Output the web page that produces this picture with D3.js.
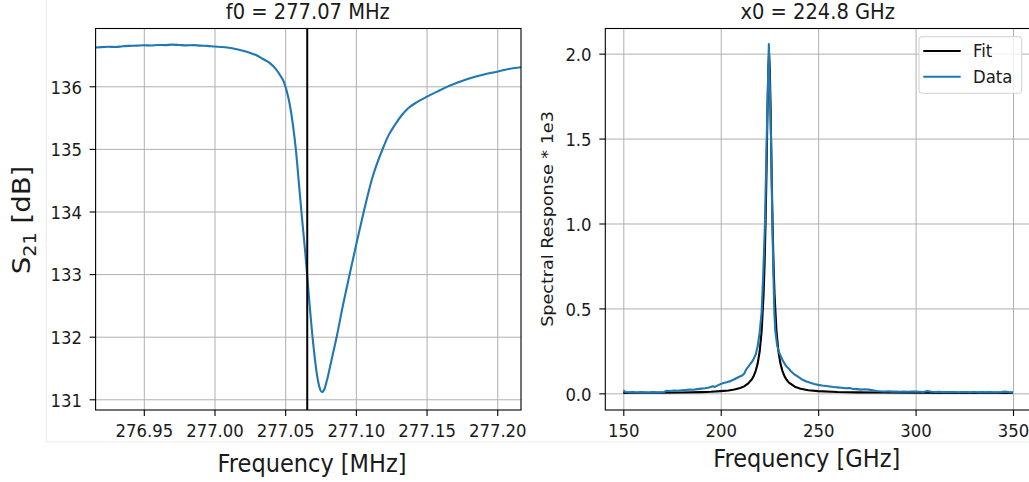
<!DOCTYPE html>
<html>
<head>
<meta charset="utf-8">
<script src="https://cdn.jsdelivr.net/npm/d3@7"></script>
<style>
  html, body { margin: 0; padding: 0; background: #fff; }
  svg { display: block; }
  text { font-family: "DejaVu Sans", sans-serif; fill: #1a1a1a; }
</style>
</head>
<body>
<svg id="chart" width="1029" height="482"></svg>
<script>
// ---- Resonator sweep (left panel) ----
const s21Freq = [276.9159, 276.920, 276.925, 276.930, 276.935, 276.940, 276.945, 276.950, 276.955, 276.960,
  276.965, 276.970, 276.975, 276.980, 276.985, 276.990, 276.995, 277.000, 277.005, 277.010,
  277.015, 277.018, 277.025, 277.0293, 277.034, 277.0392, 277.043, 277.0463, 277.049, 277.0505,
  277.052, 277.0533, 277.0555, 277.0576, 277.0597, 277.0618, 277.064, 277.0661, 277.0682, 277.0703,
  277.0725, 277.0742, 277.076, 277.0778, 277.0796, 277.0831, 277.0864, 277.0909, 277.0958, 277.1008,
  277.1057, 277.1114, 277.1192, 277.1232, 277.1276, 277.132, 277.1368, 277.1435, 277.1503, 277.1575,
  277.1644, 277.1725, 277.1807, 277.190, 277.1998, 277.209, 277.2168];
const s21Db = [136.620, 136.625, 136.632, 136.627, 136.640, 136.646, 136.650, 136.656, 136.651, 136.660,
  136.657, 136.665, 136.660, 136.654, 136.658, 136.650, 136.646, 136.635, 136.628, 136.615,
  136.595, 136.580, 136.535, 136.500, 136.440, 136.370, 136.285, 136.180, 136.075, 135.970,
  135.840, 135.700, 135.380, 134.980, 134.450, 133.920, 133.390, 132.830, 132.270, 131.790,
  131.390, 131.196, 131.117, 131.165, 131.308, 131.660, 131.995, 132.506, 133.017, 133.528,
  134.008, 134.519, 135.014, 135.220, 135.382, 135.525, 135.645, 135.750, 135.834, 135.915,
  135.990, 136.065, 136.128, 136.185, 136.233, 136.280, 136.305];
const f0 = 277.0656;
const s21Ticks = [276.95, 277.00, 277.05, 277.10, 277.15, 277.20];
const dbTicks = [131, 132, 133, 134, 135, 136];

// ---- Spectral response (right panel) ----
const specFreq = [150, 151, 153, 155, 157, 159, 161, 163, 165, 167, 169, 171, 172, 174, 176, 178, 180, 182, 184, 186,
  188, 190, 192, 194, 196, 197, 199, 201, 203, 205, 207, 209, 211, 212, 213, 214, 215, 216, 217, 218,
  219, 220, 221, 221.8, 222.7, 223.6, 224.7, 225.8, 226.5, 227.0, 227.5, 228, 229, 230, 231, 232,
  233, 234, 235, 236, 238, 240, 242, 244, 246, 248, 250, 252, 254, 256, 258, 260, 262, 264, 266,
  268, 270, 272, 274, 276, 278, 280, 282, 284, 286, 288, 290, 292, 294, 296, 298, 300, 302, 304,
  306, 308, 310, 312, 314, 316, 318, 320, 322, 324, 326, 328, 330, 332, 334, 336, 338, 340, 342,
  344, 346, 348, 350];
const specData = [0.018, 0.008, 0.006, 0.007, 0.005, 0.007, 0.006, 0.005, 0.007, 0.006, 0.006, 0.008, 0.015, 0.014, 0.017, 0.015, 0.018, 0.020, 0.022, 0.021,
  0.025, 0.028, 0.030, 0.034, 0.042, 0.038, 0.050, 0.060, 0.065, 0.072, 0.083, 0.095, 0.105, 0.115, 0.140, 0.155, 0.170, 0.185, 0.205, 0.230,
  0.280, 0.360, 0.480, 0.700, 1.000, 1.500, 2.057, 1.500, 1.000, 0.720, 0.480, 0.370, 0.280, 0.240, 0.215, 0.190,
  0.170, 0.155, 0.145, 0.130, 0.110, 0.095, 0.080, 0.070, 0.062, 0.055, 0.050, 0.046, 0.043, 0.040, 0.037, 0.035, 0.033, 0.030, 0.031,
  0.026, 0.025, 0.022, 0.024, 0.022, 0.018, 0.014, 0.012, 0.011, 0.012, 0.010, 0.011, 0.009, 0.010, 0.009, 0.011, 0.010, 0.009, 0.008,
  0.014, 0.009, 0.008, 0.009, 0.007, 0.008, 0.007, 0.008, 0.006, 0.008, 0.007, 0.006, 0.008, 0.006, 0.007, 0.006, 0.007, 0.006, 0.006,
  0.007, 0.010, 0.006, 0.006];
const fitFreq = [150, 160, 170, 180, 190, 195, 200, 204, 207, 210, 212, 214, 216, 217, 218, 219, 220, 221, 222, 222.5,
  223, 223.5, 224, 224.4, 224.8, 225.2, 225.6, 226.1, 226.6, 227.1, 227.6, 228.6, 229.6, 230.6, 231.6, 232.6, 233.6,
  235, 238, 241, 245, 250, 260, 270, 280, 300, 325, 350];
const fitVal = [0.003, 0.0035, 0.004, 0.005, 0.007, 0.009, 0.013, 0.017, 0.023, 0.032, 0.041, 0.057, 0.083, 0.104, 0.134, 0.178, 0.248, 0.368, 0.586, 0.76,
  1.0, 1.31, 1.67, 1.9, 2.0, 1.9, 1.67, 1.31, 1.0, 0.76, 0.586, 0.368, 0.248, 0.178, 0.134, 0.104, 0.083,
  0.063, 0.039, 0.027, 0.018, 0.013, 0.008, 0.006, 0.005, 0.004, 0.003, 0.003];
const ghzTicks = [150, 200, 250, 300, 350];
const respTicks = [0.0, 0.5, 1.0, 1.5, 2.0];
const legendItems = ["Fit", "Data"];
const legendColors = ["#000000", "#1f77b4"];

// ---- layout ----
const SY = 1.1;            // glyph aspect of the figure
const TICK_FS = 16.5;
const svg = d3.select("#chart");
svg.append("rect").attr("width", 1029).attr("height", 482).attr("fill", "#fff");

// faint figure frame
svg.append("line").attr("x1", 46.3).attr("x2", 46.3).attr("y1", 0).attr("y2", 442)
  .attr("stroke", "#ebebeb").attr("stroke-width", 1);
svg.append("line").attr("x1", 46.3).attr("x2", 1029).attr("y1", 442).attr("y2", 442)
  .attr("stroke", "#ebebeb").attr("stroke-width", 1);

const defs = svg.append("defs");

function panel(id, box, xDomain, yDomain, xTicks, yTicks, xFmt, yFmt) {
  const x = d3.scaleLinear().domain(xDomain).range([box.l, box.r]);
  const y = d3.scaleLinear().domain(yDomain).range([box.b, box.t]);
  defs.append("clipPath").attr("id", id).append("rect")
    .attr("x", box.l).attr("y", box.t).attr("width", box.r - box.l).attr("height", box.b - box.t);
  const g = svg.append("g");
  // grid
  g.append("g").attr("transform", `translate(0,${box.b})`)
    .call(d3.axisBottom(x).tickValues(xTicks).tickSize(-(box.b - box.t)).tickFormat(""))
    .call(s => { s.select(".domain").remove(); s.selectAll("line").attr("stroke", "#b0b0b0").attr("stroke-width", 1); });
  g.append("g").attr("transform", `translate(${box.l},0)`)
    .call(d3.axisLeft(y).tickValues(yTicks).tickSize(-(box.r - box.l)).tickFormat(""))
    .call(s => { s.select(".domain").remove(); s.selectAll("line").attr("stroke", "#b0b0b0").attr("stroke-width", 1); });
  // axes with labels
  g.append("g").attr("transform", `translate(0,${box.b})`)
    .call(d3.axisBottom(x).tickValues(xTicks).tickFormat(xFmt).tickSize(6).tickSizeOuter(0))
    .call(s => {
      s.select(".domain").remove();
      s.selectAll("line").attr("stroke", "#000").attr("stroke-width", 1.1);
      s.selectAll("text").attr("y", null).attr("dy", null)
        .attr("transform", `translate(0,26.7) scale(1,${SY})`)
        .attr("font-size", TICK_FS).attr("font-family", "DejaVu Sans");
    });
  g.append("g").attr("transform", `translate(${box.l},0)`)
    .call(d3.axisLeft(y).tickValues(yTicks).tickFormat(yFmt).tickSize(6).tickSizeOuter(0))
    .call(s => {
      s.select(".domain").remove();
      s.selectAll("line").attr("stroke", "#000").attr("stroke-width", 1.1);
      s.selectAll("text").attr("x", null).attr("dy", null)
        .attr("transform", `translate(-13.7,6.8) scale(1,${SY})`)
        .attr("font-size", TICK_FS).attr("font-family", "DejaVu Sans");
    });
  const plot = g.append("g").attr("clip-path", `url(#${id})`);
  return { x, y, g, plot };
}

// ---- left panel ----
const boxL = { l: 95.6, r: 521, t: 28.5, b: 410 };
const left = panel("clipL", boxL, [276.9159, 277.2168], [130.829, 136.923], s21Ticks, dbTicks,
  d3.format(".2f"), d3.format("d"));
left.plot.append("path")
  .datum(s21Freq.map((f, i) => [f, s21Db[i]]))
  .attr("fill", "none").attr("stroke", "#1f77b4").attr("stroke-width", 2.1)
  .attr("stroke-linejoin", "round")
  .attr("d", d3.line().x(d => left.x(d[0])).y(d => left.y(d[1])).curve(d3.curveMonotoneX));
left.plot.append("line")
  .attr("x1", left.x(f0)).attr("x2", left.x(f0)).attr("y1", boxL.t).attr("y2", boxL.b)
  .attr("stroke", "#000").attr("stroke-width", 2);
left.g.append("rect").attr("x", boxL.l).attr("y", boxL.t)
  .attr("width", boxL.r - boxL.l).attr("height", boxL.b - boxL.t)
  .attr("fill", "none").attr("stroke", "#000").attr("stroke-width", 1.1);

svg.append("text").attr("text-anchor", "middle").attr("font-size", 19.5)
  .attr("transform", `translate(307.8,19) scale(1,${SY})`).text("f0 = 277.07 MHz");
svg.append("text").attr("text-anchor", "middle").attr("font-size", 22.5)
  .attr("transform", `translate(312,471.5) scale(1,${SY})`).text("Frequency [MHz]");
const yl = svg.append("text").attr("text-anchor", "middle").attr("font-size", 25)
  .attr("transform", `translate(30,220) rotate(-90) scale(${SY},1)`);
yl.append("tspan").text("S");
yl.append("tspan").attr("font-size", 17.5).attr("dy", 6).text("21");
yl.append("tspan").attr("dy", -6).text(" [dB]");

// ---- right panel ----
const boxR = { l: 605.3, r: 1032.5, t: 28.5, b: 410 };
const right = panel("clipR", boxR, [140.76, 360], [-0.098, 2.148], ghzTicks, respTicks,
  d3.format("d"), d3.format(".1f"));
const lineR = d3.line().x(d => right.x(d[0])).y(d => right.y(d[1]));
right.plot.append("path")
  .datum(fitFreq.map((f, i) => [f, fitVal[i]]))
  .attr("fill", "none").attr("stroke", "#000").attr("stroke-width", 2.1)
  .attr("stroke-linejoin", "round").attr("d", lineR);
right.plot.append("path")
  .datum(specFreq.map((f, i) => [f, specData[i]]))
  .attr("fill", "none").attr("stroke", "#1f77b4").attr("stroke-width", 2.1)
  .attr("stroke-linejoin", "round").attr("d", lineR);
right.g.append("rect").attr("x", boxR.l).attr("y", boxR.t)
  .attr("width", boxR.r - boxR.l).attr("height", boxR.b - boxR.t)
  .attr("fill", "none").attr("stroke", "#000").attr("stroke-width", 1.1);

svg.append("text").attr("text-anchor", "middle").attr("font-size", 19.5)
  .attr("transform", `translate(817.7,19) scale(1,${SY})`).text("x0 = 224.8 GHz");
svg.append("text").attr("text-anchor", "middle").attr("font-size", 22.5)
  .attr("transform", `translate(806.7,466.7) scale(1,${SY})`).text("Frequency [GHz]");
svg.append("text").attr("text-anchor", "middle").attr("font-size", 16)
  .attr("transform", `translate(553,219) rotate(-90) scale(${SY},1)`).text("Spectral Response * 1e3");

// legend
const lg = svg.append("g");
lg.append("rect").attr("x", 919).attr("y", 36.7).attr("width", 102.7).attr("height", 56.6)
  .attr("rx", 3).attr("fill", "#fff").attr("fill-opacity", 0.8)
  .attr("stroke", "#d0d0d0").attr("stroke-width", 1);
legendItems.forEach((name, i) => {
  const cy = 51 + i * 25.7;
  lg.append("line").attr("x1", 923.3).attr("x2", 960.7).attr("y1", cy).attr("y2", cy)
    .attr("stroke", legendColors[i]).attr("stroke-width", 2.1);
  lg.append("text").attr("font-size", TICK_FS)
    .attr("transform", `translate(973,${cy + 6}) scale(1,${SY})`).text(name);
});
</script>
</body>
</html>
